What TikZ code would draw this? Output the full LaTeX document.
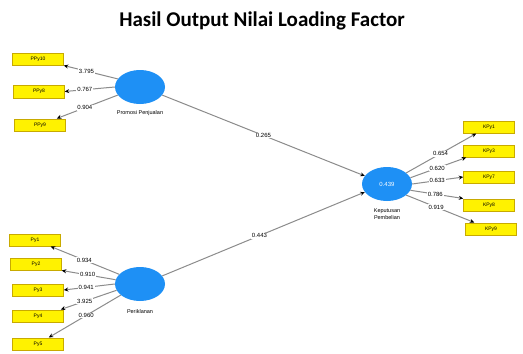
\documentclass[tikz,border=0pt]{standalone}
\usepackage{fontspec}
\setmainfont{Liberation Sans}
\newfontfamily\titlefont{Carlito}
\usetikzlibrary{arrows.meta,calc,shapes.geometric}
\definecolor{latblue}{RGB}{30,144,245}
\definecolor{boxyellow}{RGB}{255,242,0}
\definecolor{boxborder}{RGB}{200,170,0}
\definecolor{linegray}{RGB}{140,140,140}
\tikzset{
  ind/.style={draw=boxborder, line width=0.5pt, fill=boxyellow, minimum width=51pt, minimum height=12.5pt, inner sep=0pt, font=\fontsize{5}{6}\selectfont},
  lat/.style={ellipse, fill=latblue, minimum width=50pt, minimum height=34pt, inner sep=0pt, text=white, font=\fontsize{6}{7}\selectfont},
  latlab/.style={font=\fontsize{5.5}{7}\selectfont, align=center},
  conn/.style={draw=linegray, line width=1pt, -{Stealth[length=4.5pt,width=4pt,color=black]}},
  wlab/.style={fill=white, inner sep=0.8pt, font=\fontsize{6}{7}\selectfont, pos=#1},
  wlab/.default=0.5
}
\begin{document}
\begin{tikzpicture}[x=1pt,y=-1pt]
\useasboundingbox (0,0) rectangle (523,354);
\fill[white] (0,0) rectangle (523,354);
\node[font=\titlefont\bfseries\fontsize{21}{24}\selectfont] (title) at (262,21) {Hasil Output Nilai Loading Factor};

% latent variables
\node[lat] (prom) at (140,87) {};
\node[lat] (perik) at (140,284) {};
\node[lat] (kep) at (387,184) {0.439};
\node[latlab] (promlab) at (140,113) {Promosi Penjualan};
\node[latlab] (periklab) at (140,312) {Periklanan};
\node[latlab] (keplab) at (387,214) {Keputusan\\Pembelian};

% indicators
\node[ind] (ppy10) at (38,59) {PPy10};
\node[ind] (ppy8) at (39,91.5) {PPy8};
\node[ind] (ppy9) at (40,125) {PPy9};
\node[ind] (py1) at (35,240) {Py1};
\node[ind] (py2) at (36,264) {Py2};
\node[ind] (py3) at (38,290) {Py3};
\node[ind] (py4) at (38,316) {Py4};
\node[ind] (py5) at (38,344) {Py5};
\node[ind] (kpy1) at (489,127) {KPy1};
\node[ind] (kpy3) at (489,151) {KPy3};
\node[ind] (kpy7) at (489,177) {KPy7};
\node[ind] (kpy8) at (489,205) {KPy8};
\node[ind] (kpy9) at (491,229) {KPy9};

% structural paths
\draw[conn] (prom.-20) -- node[wlab] {0.265} (kep.160);
\draw[conn] (perik.20) -- node[wlab=0.48] {0.443} (kep.200);

% outer loadings Promosi
\draw[conn] (prom.160) -- node[wlab=0.58] {3.795} (ppy10.south east);
\draw[conn] (prom.180) -- node[wlab=0.6] {0.767} (ppy8.east);
\draw[conn] (prom.200) -- node[wlab=0.54] {0.904} ($(ppy9.north east)+(-9,0)$);

% outer loadings Periklanan
\draw[conn] (perik.155) -- node[wlab=0.51] {0.934} ($(py1.south east)+(-10,0)$);
\draw[conn] (perik.170) -- node[wlab=0.52] {0.910} (py2.south east);
\draw[conn] (perik.180) -- node[wlab=0.56] {0.941} (py3.east);
\draw[conn] (perik.195) -- node[wlab=0.57] {3.925} ($(py4.north east)+(-3,0)$);
\draw[conn] (perik.210) -- node[wlab=0.48] {0.960} ($(py5.north east)+(-15,0)$);

% outer loadings Keputusan
\draw[conn] (kep.30) -- node[wlab=0.49] {0.654} ($(kpy1.south west)+(13,0)$);
\draw[conn] (kep.15) -- node[wlab=0.48] {0.620} ($(kpy3.south west)+(3,0)$);
\draw[conn] (kep.0) -- node[wlab=0.49] {0.633} (kpy7.west);
\draw[conn] (kep.-15) -- node[wlab=0.47] {0.786} (kpy8.north west);
\draw[conn] (kep.-30) -- node[wlab=0.44] {0.919} ($(kpy9.north west)+(9,0)$);
\end{tikzpicture}
\end{document}
